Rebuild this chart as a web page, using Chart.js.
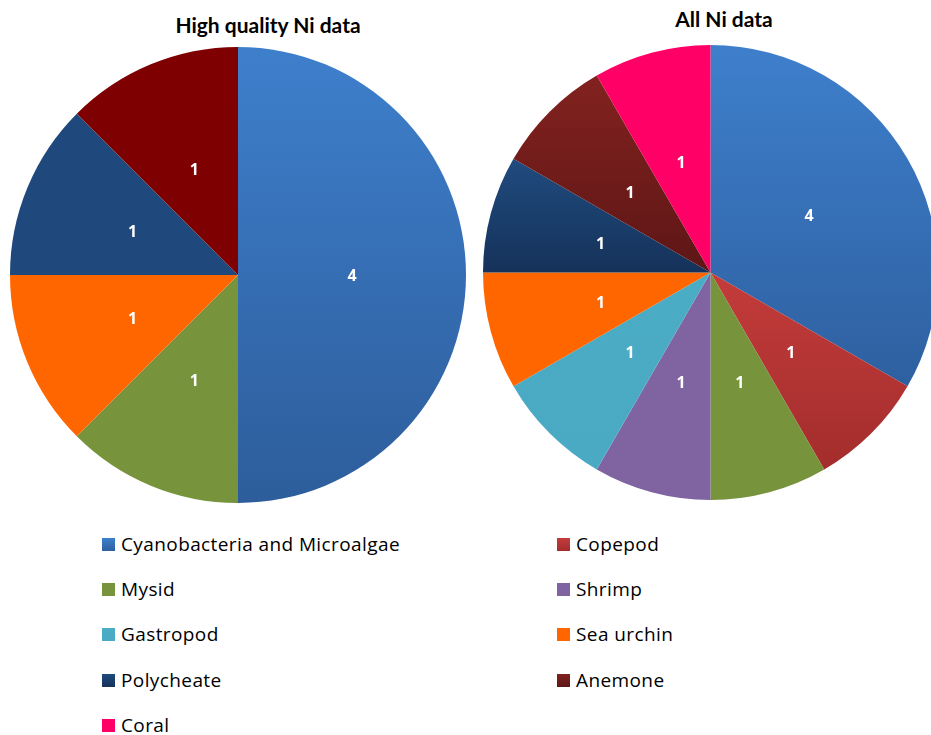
<!DOCTYPE html>
<html>
<head>
<meta charset="utf-8">
<script src="https://cdn.jsdelivr.net/npm/chart.js@4"></script>
<style>
  html, body { margin: 0; padding: 0; background: #fff; width: 931px; height: 735px; overflow: hidden; }
  body { position: relative; font-family: Lato, "Open Sans", sans-serif; }
  .title { position: absolute; font-weight: bold; font-size: 21px; color: #000; white-space: nowrap; transform: translateX(-50%); }
  .pie { position: absolute; }
  .legend-item { position: absolute; font-family: "Open Sans", Lato, sans-serif; font-size: 19px; letter-spacing: 0.4px; color: #000; white-space: nowrap; line-height: 20px; }
  .legend-item .swatch { position: absolute; left: -19px; top: 4px; width: 13px; height: 13px; }
</style>
</head>
<body>
<div class="title" style="left:268px; top:12px;">High quality Ni data</div>
<div class="title" style="left:724px; top:6px;">All Ni data</div>
<div class="pie" style="left:10px; top:47px; width:456px; height:456px;"><canvas id="hq"></canvas></div>
<div class="pie" style="left:483px; top:45px; width:455px; height:455px;"><canvas id="all"></canvas></div>
<div id="legend"></div>
<script>
// Species groups and counts of Ni toxicity records
const hqLabels = ['Cyanobacteria and Microalgae', 'Mysid', 'Sea urchin', 'Polycheate', 'Anemone'];
const hqCounts = [4, 1, 1, 1, 1];

const allLabels = ['Cyanobacteria and Microalgae', 'Copepod', 'Mysid', 'Shrimp', 'Gastropod',
                   'Sea urchin', 'Polycheate', 'Anemone', 'Coral'];
const allCounts = [4, 1, 1, 1, 1, 1, 1, 1, 1];

// Fill colours per group: [top, bottom] of each slice's vertical shading
const hqColors = [
  ['#3e7fcc', '#2d5d9b'], ['#77933c', '#77933c'], ['#ff6600', '#ff6600'],
  ['#1f497d', '#1f497d'], ['#7f0000', '#7f0000']
];
const allColors = [
  ['#3e7fcc', '#2e60a0'], ['#c33c3b', '#a32d2c'], ['#77933c', '#77933c'],
  ['#8064a2', '#8064a2'], ['#4bacc6', '#4aa9c3'], ['#ff6600', '#ff6600'],
  ['#204b7e', '#15325a'], ['#82221f', '#5d1616'], ['#ff0066', '#ff0066']
];

// Legend order (two columns, filled row by row)
const legendLabels = allLabels;
const legendColors = allColors;

// Vertical gradient spanning one slice's own bounding box
function sliceFill(pairs) {
  return (c) => {
    const pair = pairs[c.dataIndex];
    const area = c.chart.chartArea;
    if (!area || pair[0] === pair[1]) return pair[0];
    const data = c.dataset.data;
    const total = data.reduce((a, b) => a + b, 0);
    let before = 0;
    for (let k = 0; k < c.dataIndex; k++) before += data[k];
    const a0 = -Math.PI / 2 + 2 * Math.PI * before / total;
    const a1 = a0 + 2 * Math.PI * data[c.dataIndex] / total;
    const cx = (area.left + area.right) / 2, cy = (area.top + area.bottom) / 2;
    const r = Math.min(area.right - area.left, area.bottom - area.top) / 2;
    const ys = [cy, cy + r * Math.sin(a0), cy + r * Math.sin(a1)];
    for (let k = -2; k <= 3; k++) {
      const t = Math.PI / 2 + k * Math.PI;
      if (t > a0 && t < a1) ys.push(cy + r * Math.sin(t));
    }
    const y0 = Math.min(...ys), y1 = Math.max(...ys);
    const g = c.chart.ctx.createLinearGradient(0, y0, 0, Math.max(y1, y0 + 1));
    g.addColorStop(0, pair[0]);
    g.addColorStop(1, pair[1]);
    return g;
  };
}

// Writes each slice's value at the middle of its radius
const sliceValues = {
  id: 'sliceValues',
  afterDatasetsDraw(chart) {
    const ctx = chart.ctx;
    const meta = chart.getDatasetMeta(0);
    const data = chart.data.datasets[0].data;
    ctx.save();
    ctx.font = 'bold 16px "Open Sans", Lato, sans-serif';
    ctx.fillStyle = '#ffffff';
    ctx.textAlign = 'center';
    ctx.textBaseline = 'middle';
    meta.data.forEach((arc, i) => {
      const p = arc.tooltipPosition();
      ctx.fillText(String(data[i]), p.x, p.y + 1);
    });
    ctx.restore();
  }
};

function makePie(id, labels, counts, colors) {
  return new Chart(document.getElementById(id), {
    type: 'pie',
    data: {
      labels: labels,
      datasets: [{
        data: counts,
        backgroundColor: sliceFill(colors),
        borderWidth: 0
      }]
    },
    options: {
      responsive: true,
      maintainAspectRatio: false,
      animation: false,
      layout: { padding: 0 },
      plugins: { legend: { display: false }, tooltip: { enabled: false }, title: { display: false } }
    },
    plugins: [sliceValues]
  });
}

makePie('hq', hqLabels, hqCounts, hqColors);
makePie('all', allLabels, allCounts, allColors);

// Shared legend: two columns
const legend = document.getElementById('legend');
const colX = [121, 576];
const rowY = [534, 579, 624, 670, 715];
legendLabels.forEach((name, i) => {
  const item = document.createElement('div');
  item.className = 'legend-item';
  item.style.left = colX[i % 2] + 'px';
  item.style.top = rowY[Math.floor(i / 2)] + 'px';
  const sw = document.createElement('span');
  sw.className = 'swatch';
  const pair = legendColors[i];
  sw.style.background = 'linear-gradient(' + pair[0] + ',' + pair[1] + ')';
  item.appendChild(sw);
  item.appendChild(document.createTextNode(name));
  legend.appendChild(item);
});
</script>
</body>
</html>
